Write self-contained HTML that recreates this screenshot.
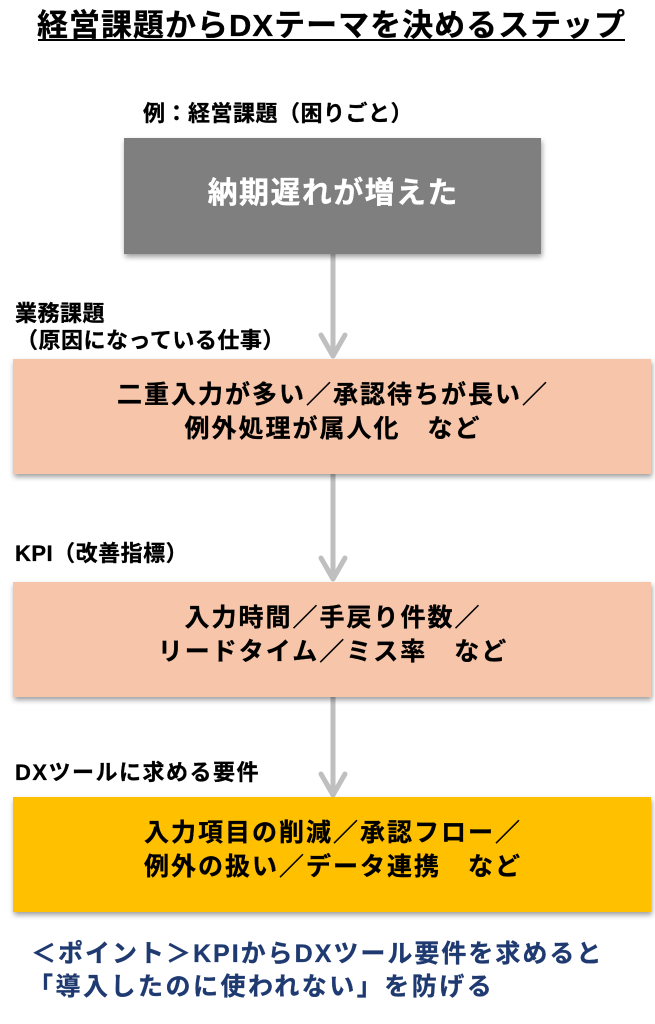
<!DOCTYPE html>
<html>
<head>
<meta charset="utf-8">
<style>
  html, body { margin:0; padding:0; }
  body { width:655px; height:1024px; position:relative; background:#fff; overflow:hidden;
         font-family:"Liberation Sans","Noto Sans CJK JP",sans-serif; font-weight:bold; }
  .t { position:absolute; white-space:nowrap; line-height:1; -webkit-text-stroke:0.3px currentColor; }
  .box { position:absolute; box-shadow:1px 3px 5px rgba(0,0,0,0.38); }
  .c { position:absolute; white-space:nowrap; line-height:1; text-align:center; box-sizing:border-box; -webkit-text-stroke:0.3px currentColor; }
  .bt { font-size:25px; letter-spacing:2px; padding-left:2px; color:#000; }
  .lb { font-size:22px; letter-spacing:0.5px; color:#000; }
</style>
</head>
<body>
  <!-- Title -->
  <div class="t" style="left:37px;top:9.5px;font-size:31px;letter-spacing:1px;color:#000;">経営課題からDXテーマを決めるステップ</div>
  <div style="position:absolute;left:38px;top:39px;width:587px;height:2px;background:#000;"></div>

  <!-- arrows -->
  <svg width="655" height="1024" style="position:absolute;left:0;top:0;" xmlns="http://www.w3.org/2000/svg">
    <g stroke="#bfbfbf" stroke-width="5" fill="none" stroke-linecap="round" stroke-linejoin="round">
      <line x1="333" y1="252" x2="333" y2="355"/>
      <polyline points="321,335 333,356 345,335"/>
      <line x1="333" y1="472" x2="333" y2="578"/>
      <polyline points="321,558 333,579 345,558"/>
      <line x1="333" y1="695" x2="333" y2="794"/>
      <polyline points="321,774 333,795 345,774"/>
    </g>
  </svg>

  <!-- Label 1 -->
  <div class="t lb" style="left:143px;top:102.7px;">例：経営課題（困りごと）</div>

  <!-- Gray box -->
  <div class="box" style="left:124px;top:138px;width:417px;height:116px;background:#7f7f7f;"></div>
  <div class="c" style="left:124px;width:417px;top:179px;font-size:30px;letter-spacing:1.4px;padding-left:1.4px;color:#fff;">納期遅れが増えた</div>

  <!-- Label 2 -->
  <div class="t lb" style="left:15px;top:302.7px;">業務課題</div>
  <div class="t lb" style="left:16px;top:329.7px;">（原因になっている仕事）</div>

  <!-- Box 2 -->
  <div class="box" style="left:13px;top:359px;width:638px;height:115px;background:#f7c6aa;"></div>
  <div class="c bt" style="left:13px;width:638px;top:383.3px;">二重入力が多い／承認待ちが長い／</div>
  <div class="c bt" style="left:13px;width:638px;top:417.3px;">例外処理が属人化　など</div>

  <!-- Label 3 -->
  <div class="t lb" style="left:15px;top:543.2px;">KPI（改善指標）</div>

  <!-- Box 3 -->
  <div class="box" style="left:13px;top:582px;width:638px;height:115px;background:#f7c6aa;"></div>
  <div class="c bt" style="left:13px;width:638px;top:605.8px;">入力時間／手戻り件数／</div>
  <div class="c bt" style="left:13px;width:638px;top:639.8px;">リードタイム／ミス率　など</div>

  <!-- Label 4 -->
  <div class="t lb" style="left:15px;top:761.7px;letter-spacing:1.5px;">DXツールに求める要件</div>

  <!-- Box 4 -->
  <div class="box" style="left:13px;top:797px;width:638px;height:115px;background:#ffc000;"></div>
  <div class="c bt" style="left:13px;width:638px;top:820.8px;">入力項目の削減／承認フロー／</div>
  <div class="c bt" style="left:13px;width:638px;top:854.8px;">例外の扱い／データ連携　など</div>

  <!-- Bottom note -->
  <div class="t" style="left:31px;top:942.3px;font-size:25px;letter-spacing:2px;color:#1f3a70;">＜ポイント＞KPIからDXツール要件を求めると</div>
  <div class="t" style="left:28px;top:975.3px;font-size:25px;letter-spacing:2.5px;color:#1f3a70;">「導入したのに使われない」を防げる</div>
</body>
</html>
